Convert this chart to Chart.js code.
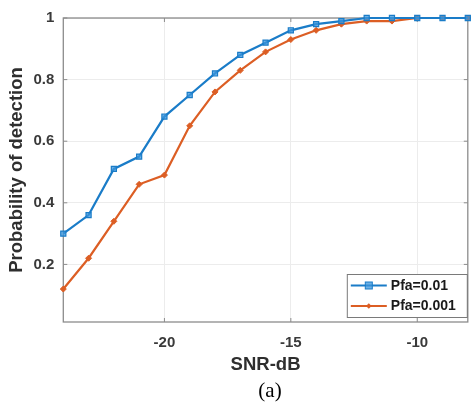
<!DOCTYPE html>
<html>
<head>
<meta charset="utf-8">
<script src="https://cdn.jsdelivr.net/npm/chart.js@4/dist/chart.umd.min.js"></script>
<style>
  html, body { margin: 0; padding: 0; background: #fff; }
  #wrap { position: relative; width: 473px; height: 403px; }
  #caption {
    position: absolute; left: 220px; top: 377px; width: 100px;
    text-align: center; font: 21px "Liberation Serif", "Times New Roman", serif;
    line-height: 26px; color: #000;
  }
</style>
</head>
<body>
<div id="wrap">
  <canvas id="c" width="473" height="403"></canvas>
  <div id="caption">(a)</div>
</div>
<script>
// SNR sweep (dB) and detection probability for two false-alarm rates
const snrDb = [-24, -23, -22, -21, -20, -19, -18, -17, -16, -15, -14, -13, -12, -11, -10, -9, -8];
const pdPfa001 = [0.30, 0.36, 0.51, 0.55, 0.68, 0.75, 0.82, 0.88, 0.92, 0.96, 0.98, 0.99, 1.00, 1.00, 1.00, 1.00, 1.00];
const pdPfa0001 = [0.12, 0.22, 0.34, 0.46, 0.49, 0.65, 0.76, 0.83, 0.89, 0.93, 0.96, 0.98, 0.99, 0.99, 1.00, 1.00, 1.00];
const seriesNames = ['Pfa=0.01', 'Pfa=0.001'];
const xTicks = [-20, -15, -10];
const yTicks = [0.2, 0.4, 0.6, 0.8, 1];

const BLUE = '#1a7cc8';
const ORANGE = '#dc5e24';
const FONT = '"Liberation Sans", Arial, Helvetica, sans-serif';

const toPoints = (xs, ys) => xs.map((x, i) => ({ x: x, y: ys[i] }));

// Axes box with inward tick marks
const boxPlugin = {
  id: 'axesBox',
  beforeDatasetsDraw(chart) {
    const { ctx, chartArea: a, scales } = chart;
    ctx.save();
    ctx.strokeStyle = '#8c8c8c';
    ctx.lineWidth = 1.3;
    ctx.strokeRect(a.left, a.top, a.right - a.left, a.bottom - a.top);
    ctx.lineWidth = 1;
    ctx.beginPath();
    xTicks.forEach(v => {
      const px = scales.x.getPixelForValue(v);
      ctx.moveTo(px, a.bottom); ctx.lineTo(px, a.bottom - 4);
      ctx.moveTo(px, a.top); ctx.lineTo(px, a.top + 4);
    });
    yTicks.forEach(v => {
      const py = scales.y.getPixelForValue(v);
      ctx.moveTo(a.left, py); ctx.lineTo(a.left + 4, py);
      ctx.moveTo(a.right, py); ctx.lineTo(a.right - 4, py);
    });
    ctx.stroke();
    ctx.restore();
  }
};

// Boxed legend inside the lower-right corner of the plot area
const insideLegend = {
  id: 'insideLegend',
  afterDraw(chart) {
    const { ctx, chartArea: a } = chart;
    const w = 120, h = 43;
    const x0 = a.right - w - 1, y0 = a.bottom - h - 5;
    ctx.save();
    ctx.fillStyle = '#fff';
    ctx.fillRect(x0, y0, w, h);
    ctx.strokeStyle = '#7a7a7a';
    ctx.lineWidth = 1;
    ctx.strokeRect(x0 + 0.5, y0 + 0.5, w, h);
    chart.data.datasets.forEach((ds, i) => {
      const y = y0 + 11.5 + i * 20.5;
      ctx.strokeStyle = ds.borderColor;
      ctx.lineWidth = 2;
      ctx.beginPath();
      ctx.moveTo(x0 + 4, y); ctx.lineTo(x0 + 40, y);
      ctx.stroke();
      ctx.fillStyle = ds.pointBackgroundColor;
      ctx.strokeStyle = ds.pointBorderColor;
      ctx.lineWidth = 1;
      const r = i === 0 ? 3.5 : 2.8;
      if (i === 0) {
        ctx.fillRect(x0 + 22 - r, y - r, 2 * r, 2 * r);
        ctx.strokeRect(x0 + 22 - r, y - r, 2 * r, 2 * r);
      } else {
        ctx.beginPath();
        ctx.moveTo(x0 + 22, y - r); ctx.lineTo(x0 + 22 + r, y);
        ctx.lineTo(x0 + 22, y + r); ctx.lineTo(x0 + 22 - r, y);
        ctx.closePath(); ctx.fill();
      }
      ctx.fillStyle = '#1a1a1a';
      ctx.font = 'bold 14px ' + FONT;
      ctx.textBaseline = 'middle';
      ctx.textAlign = 'left';
      ctx.fillText(ds.label, x0 + 44, y + 0.5);
    });
    ctx.restore();
  }
};

new Chart(document.getElementById('c'), {
  type: 'line',
  data: {
    datasets: [
      {
        label: seriesNames[0],
        data: toPoints(snrDb, pdPfa001),
        borderColor: BLUE,
        borderWidth: 2.2,
        pointStyle: 'rect',
        pointRadius: 3.6,
        pointBackgroundColor: 'rgba(60,150,220,0.75)',
        pointBorderColor: BLUE,
        pointBorderWidth: 1.2,
        tension: 0,
        clip: false
      },
      {
        label: seriesNames[1],
        data: toPoints(snrDb, pdPfa0001),
        borderColor: ORANGE,
        borderWidth: 2.2,
        pointStyle: 'rectRot',
        pointRadius: 3,
        pointBackgroundColor: ORANGE,
        pointBorderColor: ORANGE,
        pointBorderWidth: 1,
        tension: 0,
        clip: false
      }
    ]
  },
  options: {
    responsive: false,
    animation: false,
    devicePixelRatio: 1,
    layout: { padding: { left: 0, top: 15.5, right: 4, bottom: 0 } },
    plugins: {
      legend: { display: false },
      tooltip: { enabled: false }
    },
    scales: {
      x: {
        type: 'linear',
        min: -24,
        max: -8,
        afterBuildTicks: s => { s.ticks = xTicks.map(v => ({ value: v })); },
        afterFit: s => { s.height = 81; },
        grid: { color: '#ececec', lineWidth: 1, drawTicks: false },
        border: { display: false },
        ticks: {
          padding: 12,
          color: '#3a3a3a',
          font: { family: FONT, size: 15, weight: 'bold' },
          maxRotation: 0,
          callback: v => String(v)
        },
        title: {
          display: true,
          text: 'SNR-dB',
          color: '#2e2e2e',
          font: { family: FONT, size: 18.5, weight: 'bold' },
          padding: { top: 0, bottom: 27 }
        }
      },
      y: {
        min: 0.013,
        max: 1,
        afterBuildTicks: s => { s.ticks = yTicks.map(v => ({ value: v })); },
        afterFit: s => { s.width = 63.3; },
        grid: { color: '#ececec', lineWidth: 1, drawTicks: false },
        border: { display: false },
        ticks: {
          padding: 9,
          color: '#3a3a3a',
          font: { family: FONT, size: 15, weight: 'bold' },
          callback: v => String(v)
        },
        title: {
          display: true,
          text: 'Probability of detection',
          color: '#2e2e2e',
          font: { family: FONT, size: 18.5, weight: 'bold' },
          padding: { top: 6, bottom: 0 }
        }
      }
    }
  },
  plugins: [boxPlugin, insideLegend]
});
</script>
</body>
</html>
